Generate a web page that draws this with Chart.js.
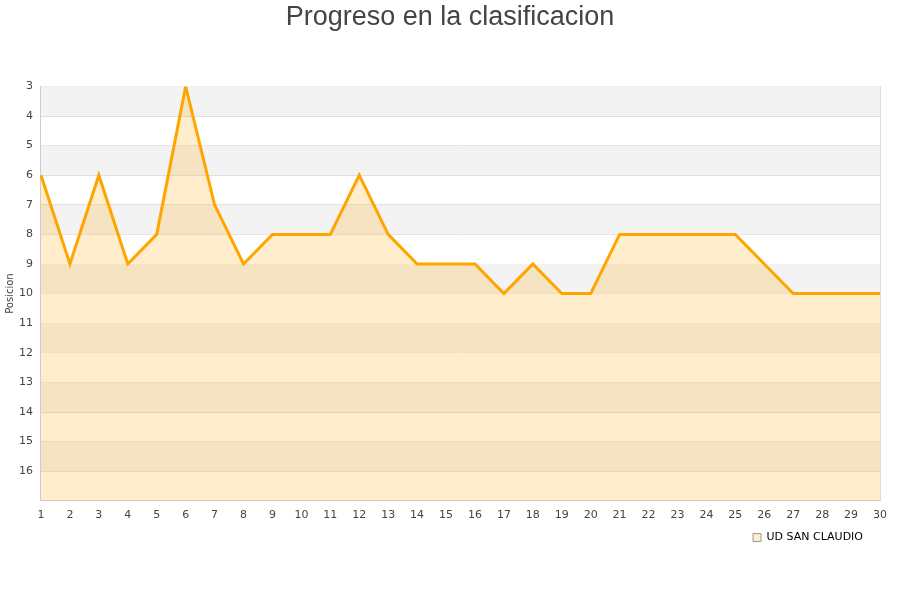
<!DOCTYPE html>
<html>
<head>
<meta charset="utf-8">
<script src="https://cdn.jsdelivr.net/npm/chart.js@4/dist/chart.umd.min.js"></script>
<style>
  html, body { margin: 0; padding: 0; background: #fff; }
  #wrap { width: 900px; height: 600px; }
</style>
</head>
<body>
<div id="wrap"><canvas id="chart" width="900" height="600"></canvas></div>
<script>
// Jornadas and position per jornada
var jornadas = [1, 2, 3, 4, 5, 6, 7, 8, 9, 10, 11, 12, 13, 14, 15, 16, 17, 18, 19, 20, 21, 22, 23, 24, 25, 26, 27, 28, 29, 30];
var posiciones = [6, 9, 6, 9, 8, 3, 7, 9, 8, 8, 8, 6, 8, 9, 9, 9, 10, 9, 10, 10, 8, 8, 8, 8, 8, 9, 10, 10, 10, 10];
var equipo = 'UD SAN CLAUDIO';
var posMin = 3;
var posMax = 17;

// Alternating grey bands behind the plot
var bandsPlugin = {
  id: 'bands',
  afterLayout: function(chart) {
    // nudge the legend a little to the left, title back to page centre
    if (chart.legend) {
      chart.legend.left -= 7;
      chart.legend.right -= 7;
    }
    if (chart.titleBlock) {
      chart.titleBlock.left += 8;
      chart.titleBlock.right += 8;
    }
  },
  beforeDatasetsDraw: function(chart) {
    var ctx = chart.ctx;
    var area = chart.chartArea;
    var y = chart.scales.y;
    ctx.save();
    for (var v = posMin; v < posMax; v++) {
      if ((v - posMin) % 2 === 0) {
        var top = y.getPixelForValue(v);
        var bottom = y.getPixelForValue(v + 1);
        ctx.fillStyle = '#f3f3f3';
        ctx.fillRect(area.left, top, area.right - area.left, bottom - top);
      }
    }
    ctx.restore();
  },
  afterDraw: function(chart) {
    var ctx = chart.ctx;
    var area = chart.chartArea;
    ctx.save();
    ctx.strokeStyle = '#dddddd';
    ctx.lineWidth = 1;
    ctx.beginPath();
    ctx.moveTo(Math.round(area.right) + 0.5, area.top);
    ctx.lineTo(Math.round(area.right) + 0.5, area.bottom);
    ctx.stroke();
    ctx.restore();
  }
};

var ctx = document.getElementById('chart').getContext('2d');
new Chart(ctx, {
  type: 'line',
  data: {
    labels: jornadas,
    datasets: [{
      label: equipo,
      data: posiciones,
      borderColor: '#ffa500',
      backgroundColor: 'rgba(255, 165, 0, 0.2)',
      borderWidth: 3,
      pointRadius: 0,
      tension: 0,
      fill: { value: posMax }
    }]
  },
  options: {
    responsive: false,
    animation: false,
    layout: { padding: { left: 4, right: 20, top: 0, bottom: 47 } },
    plugins: {
      title: {
        display: true,
        text: 'Progreso en la clasificacion',
        color: '#444444',
        font: { family: 'Liberation Sans, Arial, sans-serif', size: 27, weight: 'normal' },
        padding: { top: 1, bottom: 53 }
      },
      legend: {
        position: 'bottom',
        align: 'end',
        labels: {
          boxWidth: 8,
          boxHeight: 8,
          padding: 10,
          color: '#000000',
          font: { family: 'DejaVu Sans, sans-serif', size: 11 },
          generateLabels: function(chart) {
            return [{
              text: equipo,
              fillStyle: '#ffecc8',
              strokeStyle: '#999999',
              lineWidth: 1,
              datasetIndex: 0
            }];
          }
        }
      },
      tooltip: { enabled: false }
    },
    scales: {
      x: {
        offset: false,
        grid: { display: false },
        border: { display: true, color: '#cccccc' },
        ticks: {
          color: '#444444',
          maxRotation: 0,
          autoSkip: false,
          padding: 0,
          font: { family: 'DejaVu Sans, sans-serif', size: 11 }
        }
      },
      y: {
        reverse: true,
        min: posMin,
        max: posMax,
        title: {
          display: true,
          text: 'Posicion',
          color: '#444444',
          font: { family: 'DejaVu Sans, sans-serif', size: 10 },
          padding: { top: 0, bottom: -5 }
        },
        grid: { color: '#dddddd', drawTicks: false },
        border: { display: true, color: '#cccccc' },
        ticks: {
          stepSize: 1,
          color: '#444444',
          padding: 8,
          font: { family: 'DejaVu Sans, sans-serif', size: 11 },
          callback: function(value) {
            return value === posMax ? '' : value;
          }
        }
      }
    }
  },
  plugins: [bandsPlugin]
});
</script>
</body>
</html>
